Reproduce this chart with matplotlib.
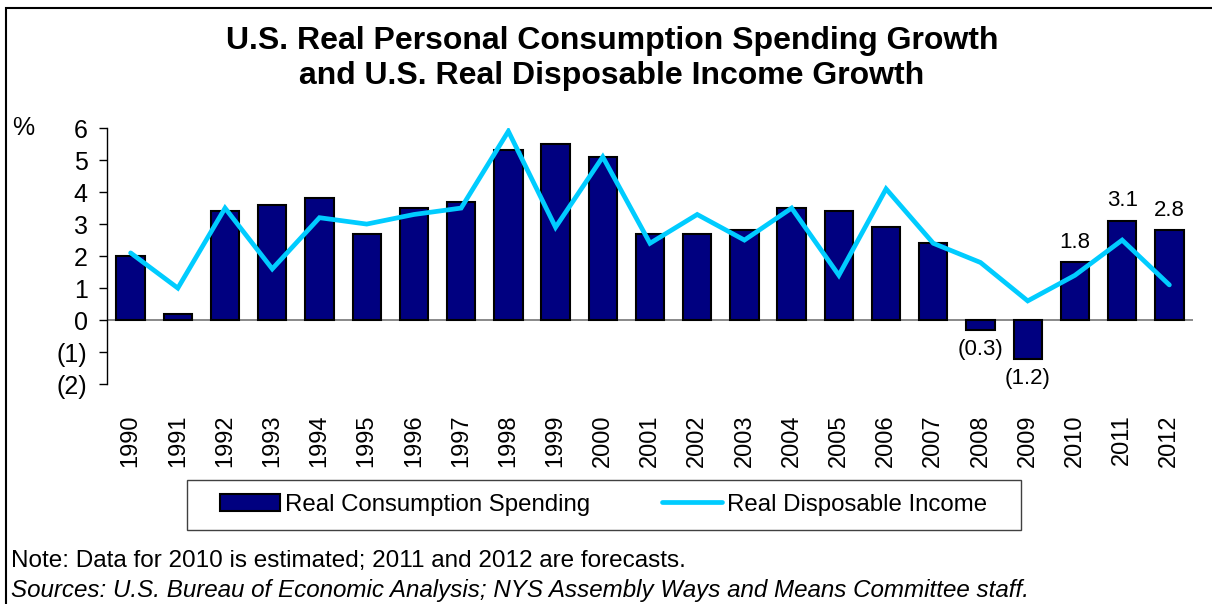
import matplotlib.pyplot as plt
from matplotlib.patches import Rectangle
from matplotlib.ticker import FuncFormatter

plt.rcParams['font.family'] = ['Liberation Sans', 'DejaVu Sans']

years = [str(y) for y in range(1990, 2013)]
consumption = [2.0, 0.2, 3.4, 3.6, 3.8, 2.7, 3.5, 3.7, 5.3, 5.5, 5.1, 2.7,
               2.7, 2.8, 3.5, 3.4, 2.9, 2.4, -0.3, -1.2, 1.8, 3.1, 2.8]
income = [2.1, 1.0, 3.5, 1.6, 3.2, 3.0, 3.3, 3.5, 5.9, 2.9, 5.1, 2.4,
          3.3, 2.5, 3.5, 1.4, 4.1, 2.4, 1.8, 0.6, 1.4, 2.5, 1.1]
labeled_years = ['2008', '2009', '2010', '2011', '2012']

BAR = '#000080'
LINE = '#00CCFF'

fig = plt.figure(figsize=(12.12, 6.04), dpi=100)
ax = fig.add_axes([0.0883, 0.364, 0.896, 0.424])

x = list(range(len(years)))
bars = ax.bar(x, consumption, width=0.6, color=BAR, edgecolor='black',
              linewidth=1.5, label='Real Consumption Spending', zorder=2)
line, = ax.plot(x, income, color=LINE, lw=3.4, label='Real Disposable Income',
                solid_joinstyle='miter', solid_capstyle='round', zorder=3)

def paren(v, pos=None):
    if v < 0:
        return '(%g)' % abs(v)
    return '%g' % v

for xi, yr, v in zip(x, years, consumption):
    if yr in labeled_years:
        off = 7 if v >= 0 else -7
        va = 'bottom' if v >= 0 else 'top'
        ax.annotate(paren(v) if v < 0 else '%.1f' % v, (xi, v),
                    xytext=(0, off), textcoords='offset points',
                    ha='center', va=va, fontsize=16)

ax.set_ylim(-2, 6)
ax.set_xlim(-0.5, len(years) - 0.5)
ax.set_yticks(range(-2, 7))
ax.yaxis.set_major_formatter(FuncFormatter(paren))
ax.set_xticks(x)
ax.set_xticklabels(years, rotation=90)
ax.tick_params(axis='y', labelsize=18, length=6, width=1, direction='out', pad=8)
ax.tick_params(axis='x', labelsize=17, length=0, pad=22)
ax.axhline(0, color='#808080', lw=1.3, zorder=1)
for s in ['top', 'right', 'bottom']:
    ax.spines[s].set_visible(False)
ax.spines['left'].set_linewidth(1)

fig.text(0.01, 0.788, '%', fontsize=18, va='center', ha='left')

fig.text(0.505, 0.903, 'U.S. Real Personal Consumption Spending Growth\n'
         'and U.S. Real Disposable Income Growth',
         ha='center', va='center', fontsize=23, fontweight='bold',
         linespacing=1.25)

# legend box
fig.patches.append(Rectangle((0.154, 0.1225), 0.688, 0.0825,
                             transform=fig.transFigure, fill=False,
                             edgecolor='#404040', lw=1))
fig.legend(handles=[bars, line], loc='center', bbox_to_anchor=(0.498, 0.164),
           ncol=2, frameon=False, fontsize=17.3, handlelength=2.5,
           handleheight=0.75, handletextpad=0.2, columnspacing=3.0)

fig.text(0.009, 0.071, 'Note: Data for 2010 is estimated; 2011 and 2012 are forecasts.',
         fontsize=17.5, va='center')
fig.text(0.009, 0.023, 'Sources: U.S. Bureau of Economic Analysis; NYS Assembly Ways '
         'and Means Committee staff.', fontsize=17.4, va='center', style='italic')

# outer frame
fig.patches.append(Rectangle((0.005, -0.1), 1.1, 1.087,
                             transform=fig.transFigure, fill=False,
                             edgecolor='black', lw=1.5))

fig.savefig('out.png', dpi=100)
